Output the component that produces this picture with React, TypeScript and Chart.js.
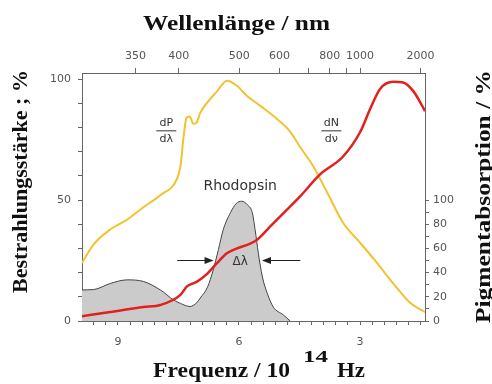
import React, { useEffect, useRef } from "react";
import { Chart, registerables } from "chart.js";

Chart.register(...registerables);

// Frequency axis range (10^14 Hz), drawn reversed
const FREQ_MIN = 1.39;
const FREQ_MAX = 9.89;
const LEFT_MAX = 102.5;
const RIGHT_MAX = 205;

// dP/dλ (solar irradiance, left axis %)
const solarFreq = [9.89, 9.61, 9.19, 8.76, 8.37, 7.95, 7.53, 7.45, 7.37, 7.3, 7.22, 7.13, 7.05, 6.96, 6.75, 6.54, 6.3, 6.05, 5.8, 5.47, 5.05, 4.72, 4.48, 4.16, 3.81, 3.42, 3.0, 2.58, 2.19, 1.76, 1.39];
const solarValues = [24, 31.5, 37.8, 42, 47, 52, 59, 64, 76.5, 84, 84.5, 81.5, 82, 86, 91, 95, 99.3, 97.2, 93, 88.9, 83.4, 78, 71.8, 64, 53, 40.6, 32.4, 24, 15.8, 7.5, 3.7];

// dN/dν (photon flux, left axis %)
const photonFreq = [9.89, 9.19, 8.37, 7.95, 7.45, 7.29, 7.17, 7.04, 6.79, 6.54, 6.3, 6.05, 5.72, 5.55, 5.23, 4.81, 4.48, 3.99, 3.42, 3.0, 2.75, 2.5, 2.18, 1.93, 1.68, 1.43, 1.39];
const photonValues = [2, 3.7, 5.8, 6.6, 10.8, 14.3, 15.3, 16.3, 19.5, 24, 28, 30, 32, 33.6, 39, 46, 51.6, 60.6, 68, 78, 87.6, 96, 98.9, 98.6, 95, 88, 86.7];

// Rhodopsin absorption (right axis %)
const rhodopsinFreq = [9.89, 9.6, 9.19, 8.77, 8.36, 7.95, 7.62, 7.45, 7.21, 7.05, 6.96, 6.78, 6.64, 6.51, 6.39, 6.21, 6.07, 5.93, 5.79, 5.67, 5.6, 5.52, 5.42, 5.3, 5.15, 4.9, 4.73];
const rhodopsinValues = [25.7, 26, 31, 34, 32.6, 25.7, 17.4, 14.5, 12, 15, 19, 28, 42, 59, 75.5, 89.6, 97, 99, 96, 89.6, 75.5, 56, 36.5, 23, 11.6, 5, 0];

// Axis ticks
const freqTicks = [9.6, 9.3, 9.0, 8.7, 8.4, 8.1, 7.8, 7.5, 7.2, 6.9, 6.6, 6.3, 6.0, 5.7, 5.4, 5.1, 4.8, 4.5, 4.2, 3.9, 3.6, 3.3, 3.0, 2.7, 2.4, 2.1, 1.8, 1.5];
const freqLabels = [9, 6, 3];
const wavelengthTicks = [350, 400, 500, 600, 700, 800, 900, 1000, 2000];
const wavelengthLabels = [350, 400, 500, 600, 800, 1000, 2000];
const leftTicks = [0, 10, 20, 30, 40, 50, 60, 70, 80, 90, 100];
const leftLabels = [0, 50, 100];
const rightTicks = [0, 10, 20, 30, 40, 50, 60, 70, 80, 90, 100];
const rightLabels = [0, 20, 40, 60, 80, 100];

// Annotation anchors (data coordinates)
const RHODOPSIN_LABEL = { freq: 5.97, value: 55.6 };
const DP_LABEL = { freq: 7.8, value: 78.8 };
const DN_LABEL = { freq: 3.71, value: 78.8 };
const DELTA = { value: 25.3, leftFrom: 7.53, leftTo: 6.63, rightFrom: 4.48, rightTo: 5.43, labelFreq: 5.97 };

const toPoints = (xs: number[], ys: number[]) => xs.map((x, i) => ({ x, y: ys[i] }));
const C_NM = 2998; // ν[10^14 Hz] = 2998 / λ[nm]

const TICK_FONT = { family: "DejaVu Sans", size: 11 };
const TICK_COLOR = "#555";
const LINE_COLOR = "#666";

function drawFitted(ctx: CanvasRenderingContext2D, text: string, cx: number, by: number, font: string, width: number, align: "center" | "left" = "center") {
  ctx.save();
  ctx.font = font;
  const w = ctx.measureText(text).width;
  const sx = width / w;
  ctx.translate(cx, by);
  ctx.scale(sx, 1);
  ctx.textAlign = align;
  ctx.textBaseline = "alphabetic";
  ctx.fillText(text, 0, 0);
  ctx.restore();
}

const annotationPlugin = {
  id: "annotationPlugin",
  afterDatasetsDraw(chart: any) {
    const { ctx, scales } = chart;
    const xs = scales.x;
    const ys = scales.y;
    ctx.save();
    ctx.fillStyle = "#333";
    ctx.strokeStyle = "#333";
    // Rhodopsin label
    ctx.font = '14px "DejaVu Sans"';
    ctx.textAlign = "center";
    ctx.textBaseline = "middle";
    ctx.fillText("Rhodopsin", xs.getPixelForValue(RHODOPSIN_LABEL.freq), ys.getPixelForValue(RHODOPSIN_LABEL.value));

    const frac = (top: string, bottom: string, f: number, v: number) => {
      const cx = xs.getPixelForValue(f);
      const cy = ys.getPixelForValue(v);
      ctx.font = '11px "DejaVu Sans"';
      ctx.textAlign = "center";
      ctx.textBaseline = "middle";
      ctx.fillText(top, cx, cy - 7.5);
      ctx.fillText(bottom, cx, cy + 8.5);
      ctx.lineWidth = 1;
      ctx.beginPath();
      ctx.moveTo(cx - 10, cy + 0.5);
      ctx.lineTo(cx + 10, cy + 0.5);
      ctx.stroke();
    };
    frac("dP", "dλ", DP_LABEL.freq, DP_LABEL.value);
    frac("dN", "dν", DN_LABEL.freq, DN_LABEL.value);

    // Δλ arrows
    const yy = Math.round(ys.getPixelForValue(DELTA.value)) + 0.5;
    const arrow = (fromF: number, toF: number) => {
      const x1 = xs.getPixelForValue(fromF);
      const x2 = xs.getPixelForValue(toF);
      const dir = x2 > x1 ? 1 : -1;
      ctx.strokeStyle = "#222";
      ctx.fillStyle = "#222";
      ctx.lineWidth = 1;
      ctx.beginPath();
      ctx.moveTo(x1, yy);
      ctx.lineTo(x2 - dir * 6, yy);
      ctx.stroke();
      ctx.beginPath();
      ctx.moveTo(x2, yy);
      ctx.lineTo(x2 - dir * 9, yy - 3.5);
      ctx.lineTo(x2 - dir * 9, yy + 3.5);
      ctx.closePath();
      ctx.fill();
    };
    arrow(DELTA.leftFrom, DELTA.leftTo);
    arrow(DELTA.rightFrom, DELTA.rightTo);
    ctx.fillStyle = "#333";
    ctx.font = '12px "DejaVu Sans"';
    ctx.textAlign = "center";
    ctx.textBaseline = "middle";
    ctx.fillText("Δλ", xs.getPixelForValue(DELTA.labelFreq), yy + 1);
    ctx.restore();
  },
  afterDraw(chart: any) {
    const { ctx } = chart;
    ctx.save();
    ctx.fillStyle = "#111";
    // Top title
    drawFitted(ctx, "Wellenlänge / nm", 236.5, 30, 'bold 22px "Liberation Serif"', 187);
    // Bottom title with superscript
    drawFitted(ctx, "Frequenz / 10", 153, 377, 'bold 22px "Liberation Serif"', 137, "left");
    drawFitted(ctx, "14", 303, 362, 'bold 17px "Liberation Serif"', 25, "left");
    drawFitted(ctx, "Hz", 337, 377, 'bold 22px "Liberation Serif"', 28, "left");
    // Left title
    ctx.save();
    ctx.translate(27, 181.5);
    ctx.rotate(-Math.PI / 2);
    drawFitted(ctx, "Bestrahlungsstärke ; %", 0, 0, 'bold 20px "Liberation Serif"', 223);
    ctx.restore();
    // Right title
    ctx.save();
    ctx.translate(490, 196.5);
    ctx.rotate(-Math.PI / 2);
    drawFitted(ctx, "Pigmentabsorption / %", 0, 0, 'bold 20px "Liberation Serif"', 253);
    ctx.restore();
    ctx.restore();
  },
};

const gridCommon = (tickLength: number) => ({
  drawOnChartArea: false,
  drawTicks: true,
  tickLength,
  color: LINE_COLOR,
  tickColor: LINE_COLOR,
});
const borderCommon = { display: true, color: LINE_COLOR, width: 1 };

export default function App() {
  const ref = useRef<HTMLCanvasElement | null>(null);
  useEffect(() => {
    if (!ref.current) return;
    const chart = new Chart(ref.current, {
      type: "line",
      data: {
        datasets: [
          {
            label: "dN/dν",
            data: toPoints(photonFreq, photonValues),
            xAxisID: "x",
            yAxisID: "y",
            borderColor: "#e2211d",
            borderWidth: 2.5,
            pointRadius: 0,
            cubicInterpolationMode: "monotone",
            fill: false,
            order: 1,
          },
          {
            label: "dP/dλ",
            data: toPoints(solarFreq, solarValues),
            xAxisID: "x",
            yAxisID: "y",
            borderColor: "#f2c232",
            borderWidth: 2,
            pointRadius: 0,
            cubicInterpolationMode: "monotone",
            fill: false,
            order: 2,
          },
          {
            label: "Rhodopsin",
            data: toPoints(rhodopsinFreq, rhodopsinValues),
            xAxisID: "x",
            yAxisID: "y2",
            borderColor: "#444",
            borderWidth: 1,
            backgroundColor: "#cbcbcb",
            pointRadius: 0,
            cubicInterpolationMode: "monotone",
            fill: "origin",
            order: 3,
          },
        ],
      },
      options: {
        animation: false,
        responsive: false,
        devicePixelRatio: 1,
        layout: { padding: 0 },
        plugins: { legend: { display: false }, tooltip: { enabled: false } },
        scales: {
          x: {
            type: "linear",
            position: "bottom",
            reverse: true,
            min: FREQ_MIN,
            max: FREQ_MAX,
            afterBuildTicks: (s: any) => {
              s.ticks = freqTicks.map((v) => ({ value: v }));
            },
            afterFit: (s: any) => {
              s.height = 63;
            },
            ticks: {
              autoSkip: false,
              maxRotation: 0,
              padding: 11,
              font: TICK_FONT,
              color: TICK_COLOR,
              callback: (v: any) => (freqLabels.includes(Number(v)) ? String(v) : ""),
            },
            grid: gridCommon(4),
            border: borderCommon,
          },
          x2: {
            type: "linear",
            position: "top",
            reverse: true,
            min: FREQ_MIN,
            max: FREQ_MAX,
            afterBuildTicks: (s: any) => {
              s.ticks = wavelengthTicks.map((l) => ({ value: C_NM / l }));
            },
            afterFit: (s: any) => {
              s.height = 73;
            },
            ticks: {
              autoSkip: false,
              maxRotation: 0,
              padding: 5,
              font: TICK_FONT,
              color: TICK_COLOR,
              callback: (_v: any, i: number) => (wavelengthLabels.includes(wavelengthTicks[i]) ? String(wavelengthTicks[i]) : ""),
            },
            grid: gridCommon(5),
            border: borderCommon,
          },
          y: {
            type: "linear",
            position: "left",
            min: 0,
            max: LEFT_MAX,
            afterBuildTicks: (s: any) => {
              s.ticks = leftTicks.map((v) => ({ value: v }));
            },
            afterFit: (s: any) => {
              s.width = 82;
            },
            ticks: {
              autoSkip: false,
              padding: 7,
              font: TICK_FONT,
              color: TICK_COLOR,
              callback: (v: any) => (leftLabels.includes(Number(v)) ? String(v) : ""),
            },
            grid: gridCommon(4),
            border: borderCommon,
          },
          y2: {
            type: "linear",
            position: "right",
            min: 0,
            max: RIGHT_MAX,
            afterBuildTicks: (s: any) => {
              s.ticks = rightTicks.map((v) => ({ value: v }));
            },
            afterFit: (s: any) => {
              s.width = 67;
            },
            ticks: {
              autoSkip: false,
              padding: 4,
              font: TICK_FONT,
              color: TICK_COLOR,
              callback: (v: any) => (rightLabels.includes(Number(v)) ? String(v) : ""),
            },
            grid: gridCommon(4),
            border: borderCommon,
          },
        },
      },
      plugins: [annotationPlugin],
    } as any);
    return () => chart.destroy();
  }, []);

  return (
    <div style={{ position: "absolute", left: 0, top: 0, width: 492, height: 384, background: "#fff" }}>
      <canvas ref={ref} width={492} height={384} style={{ display: "block", width: 492, height: 384 }} />
    </div>
  );
}
